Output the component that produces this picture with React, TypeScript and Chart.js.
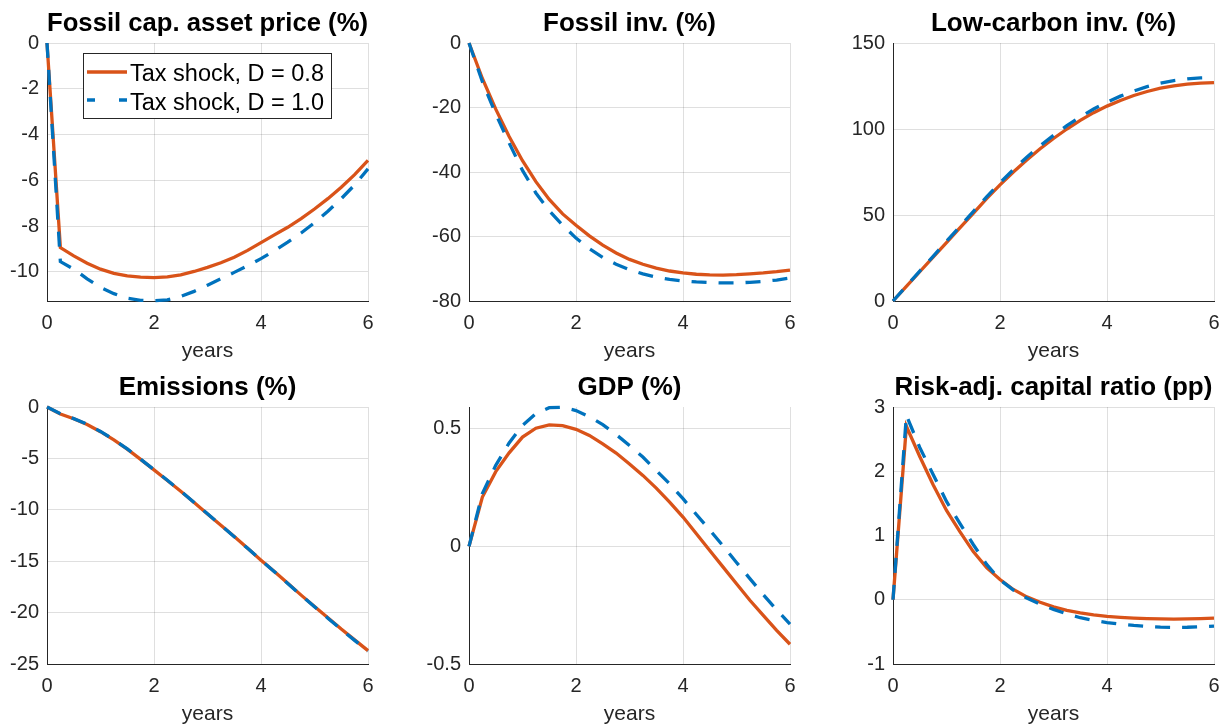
import React, { useEffect, useRef } from "react";
import { Chart, registerables } from "chart.js";

Chart.register(...registerables);

// ---------------- DATA ----------------
const years = [0, 0.25, 0.5, 0.75, 1, 1.25, 1.5, 1.75, 2, 2.25, 2.5, 2.75, 3, 3.25, 3.5, 3.75, 4, 4.25, 4.5, 4.75, 5, 5.25, 5.5, 5.75, 6];
const xTicks = [0, 2, 4, 6];
const seriesLabels = ["Tax shock, D = 0.8", "Tax shock, D = 1.0"];

const fossilPriceD08 = [0, -8.94, -9.3, -9.62, -9.88, -10.06, -10.17, -10.23, -10.25, -10.22, -10.13, -9.98, -9.8, -9.6, -9.36, -9.06, -8.72, -8.38, -8.05, -7.67, -7.25, -6.8, -6.3, -5.75, -5.13];
const fossilPriceD10 = [0, -9.55, -9.88, -10.3, -10.68, -10.95, -11.15, -11.24, -11.26, -11.22, -11.07, -10.85, -10.58, -10.3, -10.02, -9.73, -9.42, -9.07, -8.7, -8.3, -7.85, -7.35, -6.8, -6.2, -5.5];

const fossilInvD08 = [0, -11, -20.5, -29, -36.5, -43, -48.5, -53, -56.5, -59.8, -62.7, -65.1, -67.1, -68.6, -69.8, -70.7, -71.3, -71.7, -71.9, -71.95, -71.85, -71.6, -71.3, -70.9, -70.4];
const fossilInvD10 = [0, -12, -22, -31, -39.5, -46.5, -52, -56.5, -60.5, -63.8, -66.5, -68.6, -70.3, -71.6, -72.6, -73.3, -73.8, -74.1, -74.3, -74.4, -74.4, -74.2, -73.9, -73.5, -72.9];

const lowCarbonD08 = [0, 8.5, 17, 25.5, 34, 42.5, 51, 59.5, 67.5, 75, 82, 88.5, 94.5, 100, 105, 109.5, 113.3, 116.6, 119.5, 121.8, 123.7, 125.1, 126.1, 126.7, 127];
const lowCarbonD10 = [0, 8.7, 17.4, 26, 34.7, 43.3, 52, 60.5, 68.7, 76.4, 83.6, 90.2, 96.3, 101.9, 107, 111.6, 115.6, 119.1, 122.1, 124.6, 126.6, 128.1, 129.1, 129.7, 129.9];

const emissionsD08 = [0, -0.68, -1.15, -1.7, -2.4, -3.2, -4.1, -5.1, -6.12, -7.15, -8.2, -9.3, -10.4, -11.5, -12.6, -13.75, -14.9, -16.0, -17.15, -18.3, -19.4, -20.5, -21.6, -22.65, -23.7];
const emissionsD10 = [0, -0.66, -1.13, -1.68, -2.38, -3.18, -4.08, -5.08, -6.1, -7.13, -8.19, -9.29, -10.39, -11.5, -12.61, -13.75, -14.9, -16.02, -17.17, -18.32, -19.43, -20.54, -21.64, -22.7, -23.75];

const gdpD08 = [0, 0.21, 0.318, 0.398, 0.465, 0.503, 0.517, 0.514, 0.498, 0.472, 0.436, 0.397, 0.351, 0.302, 0.248, 0.188, 0.125, 0.054, -0.017, -0.088, -0.159, -0.229, -0.293, -0.357, -0.416];
const gdpD10 = [0, 0.225, 0.345, 0.44, 0.515, 0.565, 0.59, 0.592, 0.578, 0.552, 0.518, 0.476, 0.429, 0.38, 0.323, 0.266, 0.203, 0.136, 0.07, 0.002, -0.068, -0.137, -0.205, -0.27, -0.33];

const capRatioD08 = [0, 2.7, 2.23, 1.79, 1.39, 1.06, 0.75, 0.5, 0.315, 0.16, 0.045, -0.04, -0.11, -0.165, -0.205, -0.235, -0.26, -0.275, -0.287, -0.295, -0.299, -0.3, -0.298, -0.293, -0.285];
const capRatioD10 = [0, 2.87, 2.37, 1.95, 1.53, 1.19, 0.86, 0.55, 0.31, 0.15, 0.026, -0.07, -0.15, -0.22, -0.28, -0.32, -0.355, -0.38, -0.4, -0.415, -0.425, -0.43, -0.428, -0.42, -0.41];

const panelTitles = [
  "Fossil cap. asset price (%)",
  "Fossil inv. (%)",
  "Low-carbon inv. (%)",
  "Emissions (%)",
  "GDP (%)",
  "Risk-adj. capital ratio (pp)",
];
const xAxisLabel = "years";

const yTicksFossilPrice = [-10, -8, -6, -4, -2, 0];
const yTicksFossilInv = [-80, -60, -40, -20, 0];
const yTicksLowCarbon = [0, 50, 100, 150];
const yTicksEmissions = [-25, -20, -15, -10, -5, 0];
const yTicksGdp = [-0.5, 0, 0.5];
const yTicksCapRatio = [-1, 0, 1, 2, 3];

const yLimFossilPrice = [-11.27, 0];
const yLimFossilInv = [-80, 0];
const yLimLowCarbon = [0, 150];
const yLimEmissions = [-25, 0];
const yLimGdp = [-0.5, 0.593];
const yLimCapRatio = [-1, 3];

// ---------------- STYLE / LAYOUT ----------------
const FONT = "'Liberation Sans', Arial, Helvetica, sans-serif";
const ORANGE = "#D95319";
const BLUE = "#0072BD";
const AXIS_COLOR = "#262626";
const GRID_COLOR = "rgba(38,38,38,0.15)";
const LINE_W = 3.3;
const BLUE_DASH = [15, 12];
const LEGEND_BLUE_DASH = [8, 24];

const Y_W = 45; // width reserved for y tick labels
const X_H = 63; // height reserved for x tick labels + axis title
const TOP_SPACE = 45; // space above plot for title
const RIGHT_PAD = 20;
const PLOT_W = 321;

const COLS = [47, 469, 893];
const ROWS = [
  { top: 43, h: 258 },
  { top: 407, h: 257 },
];

const LEG = { dx: 36, dy: 10, w: 249, h: 66, lineY: [19, 47], baseY: [28, 57], lineX0: 4, lineX1: 44, textX: 47, fontSize: 23.5 };

const boxLegend = {
  id: "boxLegend",
  afterDatasetsDraw(chart: any) {
    const { ctx, chartArea } = chart;
    const x = Math.round(chartArea.left + LEG.dx);
    const y = Math.round(chartArea.top + LEG.dy);
    ctx.save();
    ctx.fillStyle = "#ffffff";
    ctx.fillRect(x, y, LEG.w, LEG.h);
    ctx.strokeStyle = AXIS_COLOR;
    ctx.lineWidth = 1;
    ctx.strokeRect(x + 0.5, y + 0.5, LEG.w - 1, LEG.h - 1);
    chart.data.datasets.forEach((ds: any, i: number) => {
      const ly = y + LEG.lineY[i];
      ctx.beginPath();
      ctx.setLineDash(ds.borderDash && ds.borderDash.length ? LEGEND_BLUE_DASH : []);
      ctx.strokeStyle = ds.borderColor;
      ctx.lineWidth = ds.borderWidth;
      ctx.moveTo(x + LEG.lineX0, ly);
      ctx.lineTo(x + LEG.lineX1, ly);
      ctx.stroke();
      ctx.setLineDash([]);
      ctx.fillStyle = "#000000";
      ctx.font = `${LEG.fontSize}px ${FONT}`;
      ctx.textBaseline = "alphabetic";
      ctx.textAlign = "left";
      ctx.fillText(ds.label, x + LEG.textX, y + LEG.baseY[i]);
    });
    ctx.restore();
  },
};

type PanelCfg = {
  title: string;
  a: number[];
  b: number[];
  yTicks: number[];
  yLim: number[];
  col: number;
  row: number;
  legend?: boolean;
};

const panels: PanelCfg[] = [
  { title: panelTitles[0], a: fossilPriceD08, b: fossilPriceD10, yTicks: yTicksFossilPrice, yLim: yLimFossilPrice, col: 0, row: 0, legend: true },
  { title: panelTitles[1], a: fossilInvD08, b: fossilInvD10, yTicks: yTicksFossilInv, yLim: yLimFossilInv, col: 1, row: 0 },
  { title: panelTitles[2], a: lowCarbonD08, b: lowCarbonD10, yTicks: yTicksLowCarbon, yLim: yLimLowCarbon, col: 2, row: 0 },
  { title: panelTitles[3], a: emissionsD08, b: emissionsD10, yTicks: yTicksEmissions, yLim: yLimEmissions, col: 0, row: 1 },
  { title: panelTitles[4], a: gdpD08, b: gdpD10, yTicks: yTicksGdp, yLim: yLimGdp, col: 1, row: 1 },
  { title: panelTitles[5], a: capRatioD08, b: capRatioD10, yTicks: yTicksCapRatio, yLim: yLimCapRatio, col: 2, row: 1 },
];

function Panel({ cfg }: { cfg: PanelCfg }) {
  const ref = useRef<HTMLCanvasElement>(null);
  const row = ROWS[cfg.row];
  const W = Y_W + PLOT_W + RIGHT_PAD;
  const H = TOP_SPACE + row.h + X_H;
  const left = COLS[cfg.col] - Y_W;
  const top = row.top - TOP_SPACE;

  useEffect(() => {
    const canvas = ref.current;
    if (!canvas) return;
    const tickFont = { family: FONT, size: 20 };
    const chart = new Chart(canvas, {
      type: "line",
      data: {
        datasets: [
          {
            label: seriesLabels[0],
            data: years.map((x, i) => ({ x, y: cfg.a[i] })),
            borderColor: ORANGE,
            backgroundColor: ORANGE,
            borderWidth: LINE_W,
            pointRadius: 0,
            tension: 0,
            fill: false,
            order: 1,
            clip: false,
          },
          {
            label: seriesLabels[1],
            data: years.map((x, i) => ({ x, y: cfg.b[i] })),
            borderColor: BLUE,
            backgroundColor: BLUE,
            borderWidth: LINE_W,
            borderDash: BLUE_DASH,
            pointRadius: 0,
            tension: 0,
            fill: false,
            order: 0,
            clip: false,
          },
        ],
      } as any,
      options: {
        animation: false,
        responsive: false,
        devicePixelRatio: 1,
        events: [],
        layout: { padding: { left: 0, right: RIGHT_PAD, top: TOP_SPACE - 32, bottom: 0 } },
        plugins: {
          legend: { display: false },
          tooltip: { enabled: false },
          title: {
            display: true,
            text: cfg.title,
            fullSize: false,
            color: "#000000",
            font: { family: FONT, size: 26, weight: "bold", lineHeight: 1 },
            padding: { top: 0, bottom: 6 },
          },
        },
        scales: {
          x: {
            type: "linear",
            min: 0,
            max: 6,
            afterBuildTicks: (s: any) => {
              s.ticks = xTicks.map((v) => ({ value: v }));
            },
            afterFit: (s: any) => {
              s.height = X_H;
            },
            grid: { color: GRID_COLOR, lineWidth: 1, drawTicks: false },
            border: { display: true, color: AXIS_COLOR, width: 1 },
            ticks: {
              padding: 10,
              color: AXIS_COLOR,
              font: tickFont,
              maxRotation: 0,
              autoSkip: false,
              callback: (v: any) => String(v),
            },
            title: {
              display: true,
              text: xAxisLabel,
              color: AXIS_COLOR,
              font: { family: FONT, size: 21 },
              padding: 0,
            },
          },
          y: {
            type: "linear",
            min: cfg.yLim[0],
            max: cfg.yLim[1],
            afterBuildTicks: (s: any) => {
              s.ticks = cfg.yTicks.map((v) => ({ value: v }));
            },
            afterFit: (s: any) => {
              s.width = Y_W;
            },
            grid: { color: GRID_COLOR, lineWidth: 1, drawTicks: false },
            border: { display: true, color: AXIS_COLOR, width: 1 },
            ticks: {
              padding: 8,
              color: AXIS_COLOR,
              font: tickFont,
              autoSkip: false,
              callback: (v: any) => String(v),
            },
          },
        },
      } as any,
      plugins: cfg.legend ? [boxLegend as any] : [],
    });
    return () => chart.destroy();
  }, []);

  return (
    <canvas
      ref={ref}
      width={W}
      height={H}
      style={{ position: "absolute", left, top, width: W, height: H, display: "block" }}
    />
  );
}

export default function App() {
  return (
    <div
      style={{
        position: "absolute",
        left: 0,
        top: 0,
        width: 1228,
        height: 727,
        background: "#ffffff",
        overflow: "hidden",
      }}
    >
      {panels.map((p, i) => (
        <Panel key={i} cfg={p} />
      ))}
    </div>
  );
}
